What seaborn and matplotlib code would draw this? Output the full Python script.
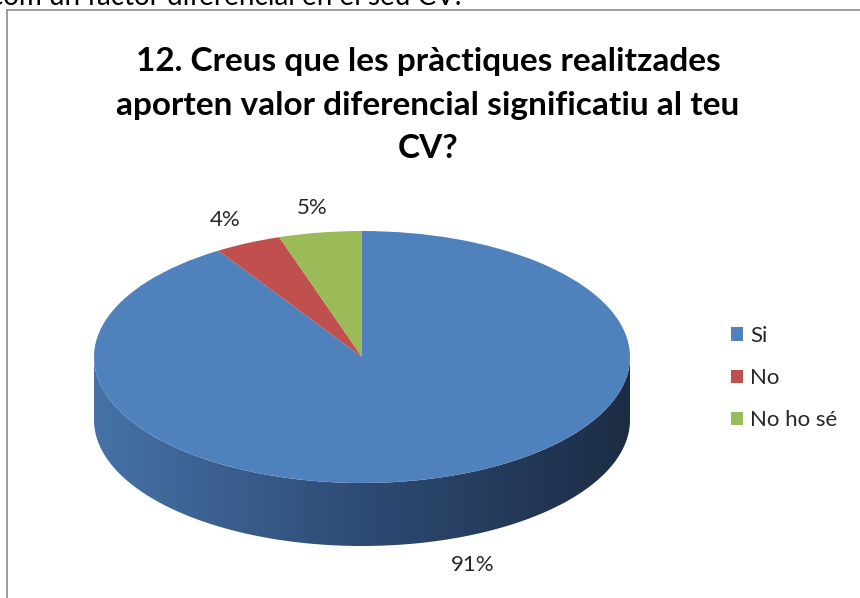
import numpy as np
import matplotlib
matplotlib.use("Agg")
import matplotlib.pyplot as plt
from matplotlib.patches import Polygon
from matplotlib.colors import LinearSegmentedColormap
from matplotlib.lines import Line2D
import seaborn as sns

# Data
categories = ["Si", "No", "No ho sé"]
values = [91, 4, 5]
colors = ["#4f81bd", "#c0504d", "#9bbb59"]

title = "12. Creus que les pràctiques realitzades\naporten valor diferencial significatiu al teu\nCV?"
cut_text = "com un factor diferencial en el seu CV."

sns.set_theme(style="white")
plt.rcParams["font.family"] = ["Lato", "DejaVu Sans"]

W, H = 860, 598
fig = plt.figure(figsize=(W / 100, H / 100), dpi=100, facecolor="white")
ax = fig.add_axes([0, 0, 1, 1])

# pie centre / radii in pixels (squashed circle -> ellipse)
cx, cy = 362, 357
rx, ry = 268, 126
depth = 0.5  # side height in pie-y units

wedges, texts, autotexts = ax.pie(
    values, colors=colors, startangle=90, counterclock=False,
    autopct="%.0f%%", pctdistance=1.2, radius=1,
    wedgeprops=dict(linewidth=0, edgecolor="none"),
    textprops=dict(fontsize=16, color="#262626"),
)
for w in wedges:
    w.set_zorder(3)
ax.set_aspect("auto")
ax.axis("off")

# labels of slices on the front half sit below the side
for wdg, t in zip(wedges, autotexts):
    mid = np.deg2rad((wdg.theta1 + wdg.theta2) / 2)
    if np.sin(mid) < 0:
        x, y = t.get_position()
        t.set_position((x + 0.08, y - depth))
    t.set_zorder(5)

# front side of the cylinder (gradient)
t = np.linspace(np.pi, 2 * np.pi, 200)
top = np.column_stack([np.cos(t), np.sin(t)])
bot = np.column_stack([np.cos(t[::-1]), np.sin(t[::-1]) - depth])
side = Polygon(np.vstack([top, bot]), closed=True, facecolor="none", edgecolor="none")
ax.add_patch(side)
side_cmap = LinearSegmentedColormap.from_list("side", ["#4672a8", "#2e4b74", "#1c2c44"])
grad = np.linspace(0, 1, 256).reshape(1, -1)
im = ax.imshow(grad, cmap=side_cmap, extent=[-1, 1, -1 - depth, 0.2],
               aspect="auto", zorder=2, interpolation="bicubic")
im.set_clip_path(side)
ax.set_xlim(-cx / rx, (W - cx) / rx)
ax.set_ylim(-(H - cy) / ry, cy / ry)

# title
fig.text(428 / W, 1 - 105 / H, title, ha="center", va="center", fontsize=24,
         fontweight="bold", color="black", linespacing=1.6)

# cut-off text at the very top (screenshot crop)
fig.text(-10 / W, 1 - 5 / H, cut_text, ha="left", va="baseline", fontsize=20, color="black")

# chart border
fig.add_artist(Line2D([7 / W, 7 / W], [-0.1, 1 - 10 / H], transform=fig.transFigure,
                      color="#8c8c8c", linewidth=1.2))
fig.add_artist(Line2D([7 / W, 1.1], [1 - 10 / H, 1 - 10 / H], transform=fig.transFigure,
                      color="#8c8c8c", linewidth=1.2))

# legend
leg = fig.legend(wedges, categories, loc="upper left",
                 bbox_to_anchor=(731 / W, 1 - 326 / H), frameon=False,
                 fontsize=16, handlelength=0.55, handleheight=0.55,
                 handletextpad=0.3, labelspacing=1.0, borderpad=0, borderaxespad=0)
for txt in leg.get_texts():
    txt.set_color("#262626")

fig.savefig("out.png", dpi=100, facecolor="white")
